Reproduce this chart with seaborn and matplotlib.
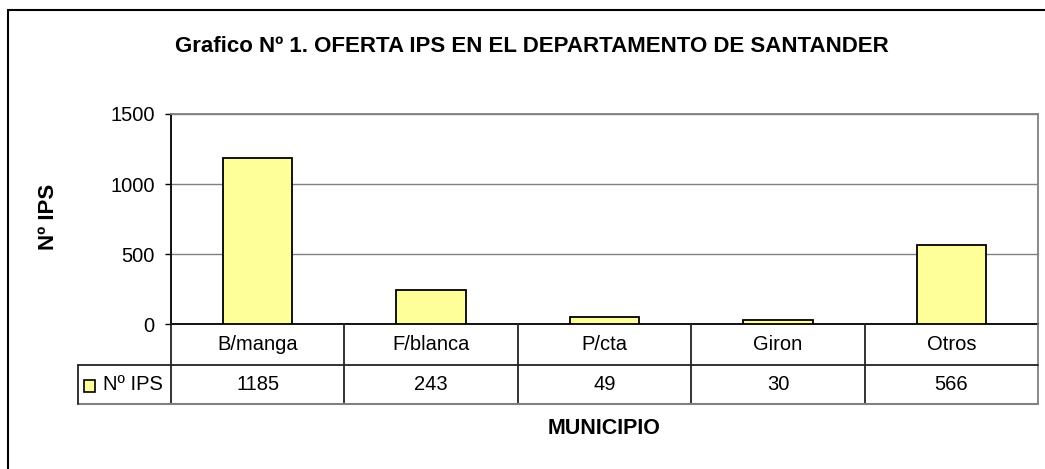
import matplotlib
matplotlib.use("Agg")
import matplotlib.pyplot as plt
import seaborn as sns
import pandas as pd
from matplotlib.patches import Rectangle
from matplotlib.lines import Line2D

categories = ["B/manga", "F/blanca", "P/cta", "Giron", "Otros"]
values = [1185, 243, 49, 30, 566]
series_name = "Nº IPS"
yticks = [0, 500, 1000, 1500]
title = "Grafico Nº 1. OFERTA IPS EN EL DEPARTAMENTO DE SANTANDER"
xlabel = "MUNICIPIO"
ylabel = "Nº IPS"

sns.set_style("white")
plt.rcParams['font.family'] = ['Liberation Sans', 'DejaVu Sans']
plt.rcParams['text.color'] = 'black'
plt.rcParams['ytick.labelcolor'] = 'black'

W, H = 1045, 469
fig = plt.figure(figsize=(W / 100, H / 100), dpi=100)
fig.patch.set_facecolor("white")

L, R, T, B = 171, 1038, 114, 324
ax = fig.add_axes([L / W, 1 - B / H, (R - L) / W, (B - T) / H])

df = pd.DataFrame({"cat": categories, "val": values})
sns.barplot(data=df, x="cat", y="val", ax=ax, color="#FFFF99", width=0.4,
            edgecolor="black", linewidth=1.3, saturation=1, zorder=3)
ax.set_xlim(-0.5, len(categories) - 0.5)
ax.set_ylim(0, 1500)
ax.set_yticks(yticks)
ax.set_yticklabels([str(v) for v in yticks], fontsize=14.5, color="black")
ax.tick_params(axis="y", length=4.3, width=1, color="black", pad=7.5, direction="out", left=True)
ax.set_xticks([])
ax.set_xlabel("")
ax.set_ylabel("")
ax.yaxis.grid(True, color="#808080", linewidth=1)
ax.set_axisbelow(True)
for s in ["top", "right"]:
    ax.spines[s].set_color("#808080")
    ax.spines[s].set_linewidth(1.3)
ax.spines["left"].set_color("black")
ax.spines["left"].set_linewidth(1.3)
ax.spines["bottom"].set_color("black")
ax.spines["bottom"].set_linewidth(1.3)

def fx(x): return x / W
def fy(y): return 1 - y / H

row1_top, row1_bot, row2_bot = 324, 365, 404
leg_left = 78
n = len(categories)
col_w = (R - L) / n
dark = "#222222"
gray = "#808080"
for i in range(n + 1):
    x = L + i * col_w
    col = gray if i == n else dark
    fig.add_artist(Line2D([fx(x), fx(x)], [fy(row1_top), fy(row2_bot)], color=col, lw=1.3))
fig.add_artist(Line2D([fx(leg_left), fx(R)], [fy(row1_bot), fy(row1_bot)], color=dark, lw=1.3))
fig.add_artist(Line2D([fx(leg_left), fx(R)], [fy(row2_bot), fy(row2_bot)], color=gray, lw=1.5))
fig.add_artist(Line2D([fx(leg_left), fx(leg_left)], [fy(row1_bot), fy(row2_bot)], color=dark, lw=1.3))

for i, (c, v) in enumerate(zip(categories, values)):
    cx = L + (i + 0.5) * col_w
    fig.text(fx(cx), fy((row1_top + row1_bot) / 2), c, ha="center", va="center", fontsize=14.5)
    fig.text(fx(cx), fy((row1_bot + row2_bot) / 2), str(v), ha="center", va="center", fontsize=14.5)

fig.add_artist(Rectangle((fx(84), fy(392)), 11 / W, 12 / H, facecolor="#FFFF99",
                         edgecolor="black", lw=1.2, transform=fig.transFigure))
fig.text(fx(103), fy((row1_bot + row2_bot) / 2), series_name, ha="left", va="center", fontsize=14.5)

fig.text(fx(532), fy(46), title, ha="center", va="center", fontsize=16, fontweight="bold")
fig.text(fx(48), fy(217), ylabel, ha="center", va="center", fontsize=16, fontweight="bold", rotation=90)
fig.text(fx((L + R) / 2), fy(428), xlabel, ha="center", va="center", fontsize=15.5, fontweight="bold")

fig.add_artist(Line2D([fx(8), fx(1045)], [fy(10), fy(10)], color="black", lw=1.5))
fig.add_artist(Line2D([fx(8), fx(8)], [fy(10), fy(469)], color="black", lw=1.5))

fig.savefig("out.png", dpi=100, facecolor="white")
